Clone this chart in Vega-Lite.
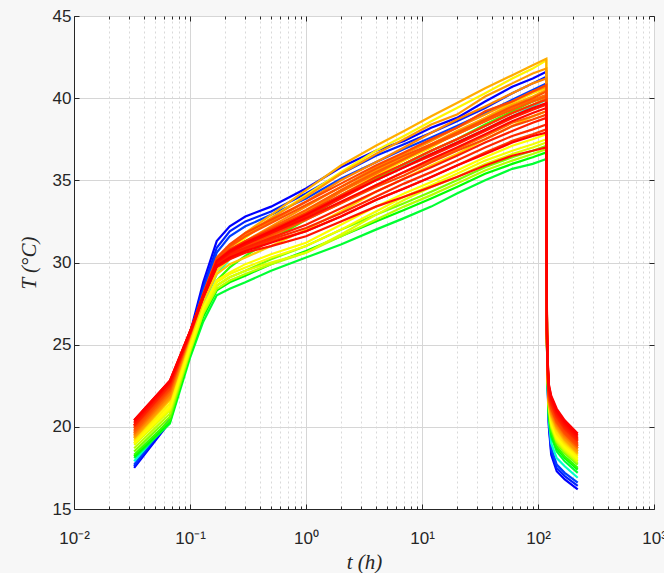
{
"$schema": "https://vega.github.io/schema/vega-lite/v6.json",
"width": 580, "height": 493,
"autosize": {"type": "none"},
"padding": {"left": 74, "top": 16, "right": 10, "bottom": 64},
"background": "#f7f7f7",
"config": {"view": {"fill": "white", "stroke": "#262626", "strokeWidth": 1}},
"datasets": {
"series": [{"s":1,"p":0},{"s":2,"p":0.03},{"s":3,"p":0.06},{"s":4,"p":0.3},{"s":5,"p":0.45},{"s":6,"p":0.5},{"s":7,"p":0.55},{"s":8,"p":0.62},{"s":9,"p":0.72},{"s":10,"p":0.75},{"s":11,"p":0.76},{"s":12,"p":0.83},{"s":13,"p":0.85},{"s":14,"p":0.86},{"s":15,"p":0.87},{"s":16,"p":0.88},{"s":17,"p":0.92},{"s":18,"p":0.93},{"s":19,"p":0.94},{"s":20,"p":0.95},{"s":21,"p":0.97},{"s":22,"p":0.98},{"s":23,"p":0.99},{"s":24,"p":1},{"s":25,"p":0.78},{"s":26,"p":0.8},{"s":27,"p":0.84},{"s":28,"p":0.89},{"s":29,"p":0.9},{"s":30,"p":0.91},{"s":31,"p":0.93},{"s":32,"p":0.96},{"s":33,"p":0.97},{"s":34,"p":1},{"s":35,"p":0.68},{"s":36,"p":0.74}],
"temps": [
{"s":1,"t":0.033,"v":17.5},{"s":1,"t":0.067,"v":20.3},{"s":1,"t":0.1,"v":25.7},{"s":1,"t":0.13,"v":28.8},{"s":1,"t":0.17,"v":31.3},{"s":1,"t":0.22,"v":32.2},{"s":1,"t":0.3,"v":32.8},{"s":1,"t":0.5,"v":33.4},{"s":1,"t":1,"v":34.5},{"s":1,"t":2,"v":35.8},{"s":1,"t":4,"v":36.8},{"s":1,"t":7,"v":37.4},{"s":1,"t":12,"v":38.2},{"s":1,"t":20,"v":38.8},{"s":1,"t":35,"v":39.8},{"s":1,"t":60,"v":40.7},{"s":1,"t":90,"v":41.2},{"s":1,"t":118,"v":41.6},{"s":1,"t":119.5,"v":25.0},{"s":1,"t":121,"v":22.5},{"s":1,"t":124,"v":20.0},{"s":1,"t":130,"v":18.3},{"s":1,"t":145,"v":17.3},{"s":1,"t":170,"v":16.8},{"s":1,"t":220,"v":16.2},
{"s":2,"t":0.033,"v":17.6},{"s":2,"t":0.067,"v":20.4},{"s":2,"t":0.1,"v":25.6},{"s":2,"t":0.13,"v":28.5},{"s":2,"t":0.17,"v":30.9},{"s":2,"t":0.22,"v":31.9},{"s":2,"t":0.3,"v":32.5},{"s":2,"t":0.5,"v":33.1},{"s":2,"t":1,"v":34.2},{"s":2,"t":2,"v":35.4},{"s":2,"t":4,"v":36.5},{"s":2,"t":7,"v":37.2},{"s":2,"t":12,"v":37.9},{"s":2,"t":20,"v":38.6},{"s":2,"t":35,"v":39.4},{"s":2,"t":60,"v":40.3},{"s":2,"t":90,"v":40.9},{"s":2,"t":118,"v":41.3},{"s":2,"t":119.5,"v":25.2},{"s":2,"t":121,"v":22.7},{"s":2,"t":124,"v":20.2},{"s":2,"t":130,"v":18.5},{"s":2,"t":145,"v":17.5},{"s":2,"t":170,"v":17.0},{"s":2,"t":220,"v":16.4},
{"s":3,"t":0.033,"v":17.7},{"s":3,"t":0.067,"v":20.5},{"s":3,"t":0.1,"v":25.5},{"s":3,"t":0.13,"v":28.3},{"s":3,"t":0.17,"v":30.6},{"s":3,"t":0.22,"v":31.6},{"s":3,"t":0.3,"v":32.2},{"s":3,"t":0.5,"v":32.9},{"s":3,"t":1,"v":33.9},{"s":3,"t":2,"v":35.1},{"s":3,"t":4,"v":36.1},{"s":3,"t":7,"v":36.9},{"s":3,"t":12,"v":37.6},{"s":3,"t":20,"v":38.3},{"s":3,"t":35,"v":39.1},{"s":3,"t":60,"v":39.9},{"s":3,"t":90,"v":40.5},{"s":3,"t":118,"v":40.9},{"s":3,"t":119.5,"v":25.4},{"s":3,"t":121,"v":22.9},{"s":3,"t":124,"v":20.4},{"s":3,"t":130,"v":18.7},{"s":3,"t":145,"v":17.7},{"s":3,"t":170,"v":17.2},{"s":3,"t":220,"v":16.6},
{"s":4,"t":0.033,"v":17.9},{"s":4,"t":0.067,"v":20.4},{"s":4,"t":0.1,"v":24.9},{"s":4,"t":0.13,"v":27.4},{"s":4,"t":0.17,"v":29.3},{"s":4,"t":0.22,"v":30.2},{"s":4,"t":0.3,"v":30.9},{"s":4,"t":0.5,"v":31.8},{"s":4,"t":1,"v":32.9},{"s":4,"t":2,"v":34.1},{"s":4,"t":4,"v":35.2},{"s":4,"t":7,"v":35.9},{"s":4,"t":12,"v":36.6},{"s":4,"t":20,"v":37.3},{"s":4,"t":35,"v":38.1},{"s":4,"t":60,"v":38.9},{"s":4,"t":90,"v":39.5},{"s":4,"t":118,"v":39.9},{"s":4,"t":119.5,"v":24.9},{"s":4,"t":121,"v":22.5},{"s":4,"t":124,"v":20.4},{"s":4,"t":130,"v":19.0},{"s":4,"t":145,"v":18.1},{"s":4,"t":170,"v":17.6},{"s":4,"t":220,"v":16.9},
{"s":5,"t":0.033,"v":18.1},{"s":5,"t":0.067,"v":20.2},{"s":5,"t":0.1,"v":24.2},{"s":5,"t":0.13,"v":26.4},{"s":5,"t":0.17,"v":28.0},{"s":5,"t":0.22,"v":28.4},{"s":5,"t":0.3,"v":28.8},{"s":5,"t":0.5,"v":29.5},{"s":5,"t":1,"v":30.3},{"s":5,"t":2,"v":31.1},{"s":5,"t":4,"v":32.0},{"s":5,"t":7,"v":32.7},{"s":5,"t":12,"v":33.4},{"s":5,"t":20,"v":34.2},{"s":5,"t":35,"v":35.0},{"s":5,"t":60,"v":35.7},{"s":5,"t":90,"v":36.0},{"s":5,"t":118,"v":36.3},{"s":5,"t":119.5,"v":25.0},{"s":5,"t":121,"v":22.7},{"s":5,"t":124,"v":20.6},{"s":5,"t":130,"v":19.4},{"s":5,"t":145,"v":18.5},{"s":5,"t":170,"v":17.9},{"s":5,"t":220,"v":17.2},
{"s":6,"t":0.033,"v":18.2},{"s":6,"t":0.067,"v":20.3},{"s":6,"t":0.1,"v":24.4},{"s":6,"t":0.13,"v":26.7},{"s":6,"t":0.17,"v":28.3},{"s":6,"t":0.22,"v":28.8},{"s":6,"t":0.3,"v":29.2},{"s":6,"t":0.5,"v":29.9},{"s":6,"t":1,"v":30.7},{"s":6,"t":2,"v":31.6},{"s":6,"t":4,"v":32.5},{"s":6,"t":7,"v":33.2},{"s":6,"t":12,"v":33.9},{"s":6,"t":20,"v":34.6},{"s":6,"t":35,"v":35.4},{"s":6,"t":60,"v":36.0},{"s":6,"t":90,"v":36.4},{"s":6,"t":118,"v":36.7},{"s":6,"t":119.5,"v":25.2},{"s":6,"t":121,"v":22.9},{"s":6,"t":124,"v":20.8},{"s":6,"t":130,"v":19.6},{"s":6,"t":145,"v":18.7},{"s":6,"t":170,"v":18.1},{"s":6,"t":220,"v":17.4},
{"s":7,"t":0.033,"v":18.3},{"s":7,"t":0.067,"v":20.4},{"s":7,"t":0.1,"v":24.6},{"s":7,"t":0.13,"v":27.1},{"s":7,"t":0.17,"v":28.9},{"s":7,"t":0.22,"v":29.7},{"s":7,"t":0.3,"v":30.4},{"s":7,"t":0.5,"v":31.4},{"s":7,"t":1,"v":32.6},{"s":7,"t":2,"v":34.0},{"s":7,"t":4,"v":35.1},{"s":7,"t":7,"v":36.0},{"s":7,"t":12,"v":36.8},{"s":7,"t":20,"v":37.5},{"s":7,"t":35,"v":38.4},{"s":7,"t":60,"v":39.2},{"s":7,"t":90,"v":39.8},{"s":7,"t":118,"v":40.1},{"s":7,"t":119.5,"v":25.3},{"s":7,"t":121,"v":23.0},{"s":7,"t":124,"v":20.9},{"s":7,"t":130,"v":19.7},{"s":7,"t":145,"v":18.8},{"s":7,"t":170,"v":18.2},{"s":7,"t":220,"v":17.5},
{"s":8,"t":0.033,"v":18.5},{"s":8,"t":0.067,"v":20.6},{"s":8,"t":0.1,"v":24.5},{"s":8,"t":0.13,"v":26.9},{"s":8,"t":0.17,"v":28.6},{"s":8,"t":0.22,"v":29.1},{"s":8,"t":0.3,"v":29.5},{"s":8,"t":0.5,"v":30.2},{"s":8,"t":1,"v":31.0},{"s":8,"t":2,"v":32.0},{"s":8,"t":4,"v":32.9},{"s":8,"t":7,"v":33.6},{"s":8,"t":12,"v":34.3},{"s":8,"t":20,"v":35.0},{"s":8,"t":35,"v":35.8},{"s":8,"t":60,"v":36.4},{"s":8,"t":90,"v":36.8},{"s":8,"t":118,"v":37.1},{"s":8,"t":119.5,"v":25.5},{"s":8,"t":121,"v":23.2},{"s":8,"t":124,"v":21.1},{"s":8,"t":130,"v":19.9},{"s":8,"t":145,"v":19.0},{"s":8,"t":170,"v":18.4},{"s":8,"t":220,"v":17.7},
{"s":35,"t":0.033,"v":18.7},{"s":35,"t":0.067,"v":20.8},{"s":35,"t":0.1,"v":24.6},{"s":35,"t":0.13,"v":26.9},{"s":35,"t":0.17,"v":28.4},{"s":35,"t":0.22,"v":28.9},{"s":35,"t":0.3,"v":29.3},{"s":35,"t":0.5,"v":29.9},{"s":35,"t":1,"v":30.6},{"s":35,"t":2,"v":31.6},{"s":35,"t":4,"v":32.6},{"s":35,"t":7,"v":33.4},{"s":35,"t":12,"v":34.1},{"s":35,"t":20,"v":34.8},{"s":35,"t":35,"v":35.6},{"s":35,"t":60,"v":36.2},{"s":35,"t":90,"v":36.6},{"s":35,"t":118,"v":36.9},{"s":35,"t":119.5,"v":25.6},{"s":35,"t":121,"v":23.3},{"s":35,"t":124,"v":21.2},{"s":35,"t":130,"v":20.0},{"s":35,"t":145,"v":19.1},{"s":35,"t":170,"v":18.5},{"s":35,"t":220,"v":17.8},
{"s":9,"t":0.033,"v":18.9},{"s":9,"t":0.067,"v":21.0},{"s":9,"t":0.1,"v":24.7},{"s":9,"t":0.13,"v":27.0},{"s":9,"t":0.17,"v":28.6},{"s":9,"t":0.22,"v":29.1},{"s":9,"t":0.3,"v":29.5},{"s":9,"t":0.5,"v":30.0},{"s":9,"t":1,"v":30.6},{"s":9,"t":2,"v":31.7},{"s":9,"t":4,"v":32.9},{"s":9,"t":7,"v":33.8},{"s":9,"t":12,"v":34.6},{"s":9,"t":20,"v":35.2},{"s":9,"t":35,"v":36.0},{"s":9,"t":60,"v":36.6},{"s":9,"t":90,"v":37.0},{"s":9,"t":118,"v":37.3},{"s":9,"t":119.5,"v":25.7},{"s":9,"t":121,"v":23.4},{"s":9,"t":124,"v":21.3},{"s":9,"t":130,"v":20.1},{"s":9,"t":145,"v":19.2},{"s":9,"t":170,"v":18.6},{"s":9,"t":220,"v":17.9},
{"s":36,"t":0.033,"v":19.0},{"s":36,"t":0.067,"v":21.1},{"s":36,"t":0.1,"v":24.8},{"s":36,"t":0.13,"v":27.2},{"s":36,"t":0.17,"v":28.8},{"s":36,"t":0.22,"v":29.3},{"s":36,"t":0.3,"v":29.7},{"s":36,"t":0.5,"v":30.3},{"s":36,"t":1,"v":31.0},{"s":36,"t":2,"v":32.0},{"s":36,"t":4,"v":33.1},{"s":36,"t":7,"v":34.0},{"s":36,"t":12,"v":34.7},{"s":36,"t":20,"v":35.4},{"s":36,"t":35,"v":36.2},{"s":36,"t":60,"v":36.8},{"s":36,"t":90,"v":37.2},{"s":36,"t":118,"v":37.5},{"s":36,"t":119.5,"v":25.8},{"s":36,"t":121,"v":23.5},{"s":36,"t":124,"v":21.4},{"s":36,"t":130,"v":20.2},{"s":36,"t":145,"v":19.3},{"s":36,"t":170,"v":18.7},{"s":36,"t":220,"v":18.0},
{"s":10,"t":0.033,"v":19.0},{"s":10,"t":0.067,"v":21.2},{"s":10,"t":0.1,"v":24.9},{"s":10,"t":0.13,"v":27.3},{"s":10,"t":0.17,"v":28.9},{"s":10,"t":0.22,"v":29.4},{"s":10,"t":0.3,"v":29.9},{"s":10,"t":0.5,"v":30.5},{"s":10,"t":1,"v":31.2},{"s":10,"t":2,"v":32.3},{"s":10,"t":4,"v":33.4},{"s":10,"t":7,"v":34.2},{"s":10,"t":12,"v":34.9},{"s":10,"t":20,"v":35.6},{"s":10,"t":35,"v":36.4},{"s":10,"t":60,"v":37.1},{"s":10,"t":90,"v":37.5},{"s":10,"t":118,"v":37.8},{"s":10,"t":119.5,"v":25.9},{"s":10,"t":121,"v":23.6},{"s":10,"t":124,"v":21.5},{"s":10,"t":130,"v":20.3},{"s":10,"t":145,"v":19.4},{"s":10,"t":170,"v":18.8},{"s":10,"t":220,"v":18.1},
{"s":11,"t":0.033,"v":19.1},{"s":11,"t":0.067,"v":21.4},{"s":11,"t":0.1,"v":25.2},{"s":11,"t":0.13,"v":27.8},{"s":11,"t":0.17,"v":29.8},{"s":11,"t":0.22,"v":30.7},{"s":11,"t":0.3,"v":31.5},{"s":11,"t":0.5,"v":32.7},{"s":11,"t":1,"v":34.1},{"s":11,"t":2,"v":35.5},{"s":11,"t":4,"v":36.8},{"s":11,"t":7,"v":37.7},{"s":11,"t":12,"v":38.6},{"s":11,"t":20,"v":39.4},{"s":11,"t":35,"v":40.3},{"s":11,"t":60,"v":41.2},{"s":11,"t":90,"v":41.8},{"s":11,"t":118,"v":42.3},{"s":11,"t":119.5,"v":26.0},{"s":11,"t":121,"v":23.7},{"s":11,"t":124,"v":21.6},{"s":11,"t":130,"v":20.4},{"s":11,"t":145,"v":19.5},{"s":11,"t":170,"v":18.9},{"s":11,"t":220,"v":18.2},
{"s":25,"t":0.033,"v":19.2},{"s":25,"t":0.067,"v":21.6},{"s":25,"t":0.1,"v":25.3},{"s":25,"t":0.13,"v":27.7},{"s":25,"t":0.17,"v":29.5},{"s":25,"t":0.22,"v":30.2},{"s":25,"t":0.3,"v":30.8},{"s":25,"t":0.5,"v":31.7},{"s":25,"t":1,"v":32.8},{"s":25,"t":2,"v":34.1},{"s":25,"t":4,"v":35.3},{"s":25,"t":7,"v":36.2},{"s":25,"t":12,"v":37.0},{"s":25,"t":20,"v":37.9},{"s":25,"t":35,"v":38.8},{"s":25,"t":60,"v":39.7},{"s":25,"t":90,"v":40.3},{"s":25,"t":118,"v":40.6},{"s":25,"t":119.5,"v":25.9},{"s":25,"t":121,"v":23.6},{"s":25,"t":124,"v":21.6},{"s":25,"t":130,"v":20.5},{"s":25,"t":145,"v":19.6},{"s":25,"t":170,"v":19.0},{"s":25,"t":220,"v":18.3},
{"s":26,"t":0.033,"v":19.3},{"s":26,"t":0.067,"v":21.7},{"s":26,"t":0.1,"v":25.4},{"s":26,"t":0.13,"v":27.6},{"s":26,"t":0.17,"v":29.3},{"s":26,"t":0.22,"v":29.9},{"s":26,"t":0.3,"v":30.3},{"s":26,"t":0.5,"v":31.0},{"s":26,"t":1,"v":32.0},{"s":26,"t":2,"v":33.1},{"s":26,"t":4,"v":34.3},{"s":26,"t":7,"v":35.1},{"s":26,"t":12,"v":35.9},{"s":26,"t":20,"v":36.6},{"s":26,"t":35,"v":37.5},{"s":26,"t":60,"v":38.3},{"s":26,"t":90,"v":38.9},{"s":26,"t":118,"v":39.2},{"s":26,"t":119.5,"v":25.0},{"s":26,"t":121,"v":23.0},{"s":26,"t":124,"v":21.4},{"s":26,"t":130,"v":20.6},{"s":26,"t":145,"v":19.8},{"s":26,"t":170,"v":19.1},{"s":26,"t":220,"v":18.35},
{"s":12,"t":0.033,"v":19.3},{"s":12,"t":0.067,"v":21.7},{"s":12,"t":0.1,"v":25.5},{"s":12,"t":0.13,"v":28.0},{"s":12,"t":0.17,"v":30.1},{"s":12,"t":0.22,"v":31.0},{"s":12,"t":0.3,"v":31.8},{"s":12,"t":0.5,"v":32.9},{"s":12,"t":1,"v":34.4},{"s":12,"t":2,"v":35.9},{"s":12,"t":4,"v":37.1},{"s":12,"t":7,"v":38.0},{"s":12,"t":12,"v":38.9},{"s":12,"t":20,"v":39.7},{"s":12,"t":35,"v":40.6},{"s":12,"t":60,"v":41.4},{"s":12,"t":90,"v":42.0},{"s":12,"t":118,"v":42.4},{"s":12,"t":119.5,"v":25.0},{"s":12,"t":121,"v":23.0},{"s":12,"t":124,"v":21.4},{"s":12,"t":130,"v":20.7},{"s":12,"t":145,"v":19.9},{"s":12,"t":170,"v":19.2},{"s":12,"t":220,"v":18.4},
{"s":27,"t":0.033,"v":19.4},{"s":27,"t":0.067,"v":21.8},{"s":27,"t":0.1,"v":25.5},{"s":27,"t":0.13,"v":27.8},{"s":27,"t":0.17,"v":29.8},{"s":27,"t":0.22,"v":30.5},{"s":27,"t":0.3,"v":31.1},{"s":27,"t":0.5,"v":32.0},{"s":27,"t":1,"v":33.1},{"s":27,"t":2,"v":34.4},{"s":27,"t":4,"v":35.6},{"s":27,"t":7,"v":36.4},{"s":27,"t":12,"v":37.2},{"s":27,"t":20,"v":38.0},{"s":27,"t":35,"v":38.8},{"s":27,"t":60,"v":39.6},{"s":27,"t":90,"v":40.1},{"s":27,"t":118,"v":40.5},{"s":27,"t":119.5,"v":24.9},{"s":27,"t":121,"v":23.1},{"s":27,"t":124,"v":21.5},{"s":27,"t":130,"v":20.8},{"s":27,"t":145,"v":20.0},{"s":27,"t":170,"v":19.3},{"s":27,"t":220,"v":18.5},
{"s":13,"t":0.033,"v":19.4},{"s":13,"t":0.067,"v":21.8},{"s":13,"t":0.1,"v":25.6},{"s":13,"t":0.13,"v":28.0},{"s":13,"t":0.17,"v":30.2},{"s":13,"t":0.22,"v":31.0},{"s":13,"t":0.3,"v":31.7},{"s":13,"t":0.5,"v":32.7},{"s":13,"t":1,"v":34.0},{"s":13,"t":2,"v":35.4},{"s":13,"t":4,"v":36.6},{"s":13,"t":7,"v":37.5},{"s":13,"t":12,"v":38.4},{"s":13,"t":20,"v":39.0},{"s":13,"t":35,"v":40.1},{"s":13,"t":60,"v":40.9},{"s":13,"t":90,"v":41.5},{"s":13,"t":118,"v":41.8},{"s":13,"t":119.5,"v":24.9},{"s":13,"t":121,"v":23.1},{"s":13,"t":124,"v":21.5},{"s":13,"t":130,"v":20.8},{"s":13,"t":145,"v":20.0},{"s":13,"t":170,"v":19.3},{"s":13,"t":220,"v":18.5},
{"s":14,"t":0.033,"v":19.5},{"s":14,"t":0.067,"v":21.9},{"s":14,"t":0.1,"v":25.6},{"s":14,"t":0.13,"v":27.9},{"s":14,"t":0.17,"v":30.0},{"s":14,"t":0.22,"v":30.7},{"s":14,"t":0.3,"v":31.3},{"s":14,"t":0.5,"v":32.2},{"s":14,"t":1,"v":33.4},{"s":14,"t":2,"v":34.6},{"s":14,"t":4,"v":35.8},{"s":14,"t":7,"v":36.6},{"s":14,"t":12,"v":37.4},{"s":14,"t":20,"v":38.2},{"s":14,"t":35,"v":39.0},{"s":14,"t":60,"v":39.8},{"s":14,"t":90,"v":40.4},{"s":14,"t":118,"v":40.7},{"s":14,"t":119.5,"v":25.0},{"s":14,"t":121,"v":23.2},{"s":14,"t":124,"v":21.6},{"s":14,"t":130,"v":20.9},{"s":14,"t":145,"v":20.1},{"s":14,"t":170,"v":19.4},{"s":14,"t":220,"v":18.6},
{"s":15,"t":0.033,"v":19.5},{"s":15,"t":0.067,"v":22.0},{"s":15,"t":0.1,"v":25.7},{"s":15,"t":0.13,"v":28.0},{"s":15,"t":0.17,"v":30.1},{"s":15,"t":0.22,"v":30.9},{"s":15,"t":0.3,"v":31.6},{"s":15,"t":0.5,"v":32.5},{"s":15,"t":1,"v":33.7},{"s":15,"t":2,"v":35.0},{"s":15,"t":4,"v":36.1},{"s":15,"t":7,"v":37.0},{"s":15,"t":12,"v":37.9},{"s":15,"t":20,"v":38.7},{"s":15,"t":35,"v":39.5},{"s":15,"t":60,"v":40.3},{"s":15,"t":90,"v":40.9},{"s":15,"t":118,"v":41.2},{"s":15,"t":119.5,"v":25.1},{"s":15,"t":121,"v":23.3},{"s":15,"t":124,"v":21.7},{"s":15,"t":130,"v":20.9},{"s":15,"t":145,"v":20.1},{"s":15,"t":170,"v":19.4},{"s":15,"t":220,"v":18.7},
{"s":16,"t":0.033,"v":19.6},{"s":16,"t":0.067,"v":22.0},{"s":16,"t":0.1,"v":25.6},{"s":16,"t":0.13,"v":27.9},{"s":16,"t":0.17,"v":29.9},{"s":16,"t":0.22,"v":30.5},{"s":16,"t":0.3,"v":31.0},{"s":16,"t":0.5,"v":31.8},{"s":16,"t":1,"v":32.9},{"s":16,"t":2,"v":34.0},{"s":16,"t":4,"v":35.2},{"s":16,"t":7,"v":36.0},{"s":16,"t":12,"v":36.8},{"s":16,"t":20,"v":37.5},{"s":16,"t":35,"v":38.3},{"s":16,"t":60,"v":39.1},{"s":16,"t":90,"v":39.6},{"s":16,"t":118,"v":40.0},{"s":16,"t":119.5,"v":25.1},{"s":16,"t":121,"v":23.3},{"s":16,"t":124,"v":21.7},{"s":16,"t":130,"v":21.0},{"s":16,"t":145,"v":20.2},{"s":16,"t":170,"v":19.5},{"s":16,"t":220,"v":18.7},
{"s":28,"t":0.033,"v":19.6},{"s":28,"t":0.067,"v":22.1},{"s":28,"t":0.1,"v":25.6},{"s":28,"t":0.13,"v":27.9},{"s":28,"t":0.17,"v":29.9},{"s":28,"t":0.22,"v":30.6},{"s":28,"t":0.3,"v":31.1},{"s":28,"t":0.5,"v":31.9},{"s":28,"t":1,"v":33.0},{"s":28,"t":2,"v":34.3},{"s":28,"t":4,"v":35.4},{"s":28,"t":7,"v":36.3},{"s":28,"t":12,"v":37.1},{"s":28,"t":20,"v":37.8},{"s":28,"t":35,"v":38.6},{"s":28,"t":60,"v":39.4},{"s":28,"t":90,"v":39.9},{"s":28,"t":118,"v":40.2},{"s":28,"t":119.5,"v":25.1},{"s":28,"t":121,"v":23.3},{"s":28,"t":124,"v":21.7},{"s":28,"t":130,"v":21.0},{"s":28,"t":145,"v":20.2},{"s":28,"t":170,"v":19.5},{"s":28,"t":220,"v":18.7},
{"s":29,"t":0.033,"v":19.7},{"s":29,"t":0.067,"v":22.2},{"s":29,"t":0.1,"v":25.7},{"s":29,"t":0.13,"v":27.9},{"s":29,"t":0.17,"v":29.8},{"s":29,"t":0.22,"v":30.4},{"s":29,"t":0.3,"v":30.9},{"s":29,"t":0.5,"v":31.6},{"s":29,"t":1,"v":32.6},{"s":29,"t":2,"v":33.6},{"s":29,"t":4,"v":34.7},{"s":29,"t":7,"v":35.5},{"s":29,"t":12,"v":36.2},{"s":29,"t":20,"v":36.9},{"s":29,"t":35,"v":37.7},{"s":29,"t":60,"v":38.5},{"s":29,"t":90,"v":38.9},{"s":29,"t":118,"v":39.2},{"s":29,"t":119.5,"v":25.2},{"s":29,"t":121,"v":23.4},{"s":29,"t":124,"v":21.8},{"s":29,"t":130,"v":21.1},{"s":29,"t":145,"v":20.3},{"s":29,"t":170,"v":19.6},{"s":29,"t":220,"v":18.8},
{"s":30,"t":0.033,"v":19.7},{"s":30,"t":0.067,"v":22.2},{"s":30,"t":0.1,"v":25.7},{"s":30,"t":0.13,"v":28.0},{"s":30,"t":0.17,"v":30.0},{"s":30,"t":0.22,"v":30.7},{"s":30,"t":0.3,"v":31.3},{"s":30,"t":0.5,"v":32.1},{"s":30,"t":1,"v":33.2},{"s":30,"t":2,"v":34.4},{"s":30,"t":4,"v":35.5},{"s":30,"t":7,"v":36.3},{"s":30,"t":12,"v":37.1},{"s":30,"t":20,"v":37.8},{"s":30,"t":35,"v":38.6},{"s":30,"t":60,"v":39.3},{"s":30,"t":90,"v":39.8},{"s":30,"t":118,"v":40.1},{"s":30,"t":119.5,"v":25.3},{"s":30,"t":121,"v":23.5},{"s":30,"t":124,"v":21.9},{"s":30,"t":130,"v":21.2},{"s":30,"t":145,"v":20.3},{"s":30,"t":170,"v":19.6},{"s":30,"t":220,"v":18.85},
{"s":17,"t":0.033,"v":19.8},{"s":17,"t":0.067,"v":22.3},{"s":17,"t":0.1,"v":25.7},{"s":17,"t":0.13,"v":28.0},{"s":17,"t":0.17,"v":30.2},{"s":17,"t":0.22,"v":31.0},{"s":17,"t":0.3,"v":31.6},{"s":17,"t":0.5,"v":32.4},{"s":17,"t":1,"v":33.5},{"s":17,"t":2,"v":34.6},{"s":17,"t":4,"v":35.7},{"s":17,"t":7,"v":36.5},{"s":17,"t":12,"v":37.2},{"s":17,"t":20,"v":37.9},{"s":17,"t":35,"v":38.7},{"s":17,"t":60,"v":39.5},{"s":17,"t":90,"v":40.0},{"s":17,"t":118,"v":40.4},{"s":17,"t":119.5,"v":25.2},{"s":17,"t":121,"v":23.4},{"s":17,"t":124,"v":21.8},{"s":17,"t":130,"v":21.1},{"s":17,"t":145,"v":20.3},{"s":17,"t":170,"v":19.6},{"s":17,"t":220,"v":18.8},
{"s":18,"t":0.033,"v":19.9},{"s":18,"t":0.067,"v":22.4},{"s":18,"t":0.1,"v":25.7},{"s":18,"t":0.13,"v":28.1},{"s":18,"t":0.17,"v":30.3},{"s":18,"t":0.22,"v":31.1},{"s":18,"t":0.3,"v":31.8},{"s":18,"t":0.5,"v":32.6},{"s":18,"t":1,"v":33.7},{"s":18,"t":2,"v":34.8},{"s":18,"t":4,"v":35.9},{"s":18,"t":7,"v":36.7},{"s":18,"t":12,"v":37.5},{"s":18,"t":20,"v":38.2},{"s":18,"t":35,"v":39.2},{"s":18,"t":60,"v":39.8},{"s":18,"t":90,"v":40.4},{"s":18,"t":118,"v":40.8},{"s":18,"t":119.5,"v":25.3},{"s":18,"t":121,"v":23.5},{"s":18,"t":124,"v":21.9},{"s":18,"t":130,"v":21.2},{"s":18,"t":145,"v":20.4},{"s":18,"t":170,"v":19.7},{"s":18,"t":220,"v":18.9},
{"s":31,"t":0.033,"v":19.9},{"s":31,"t":0.067,"v":22.3},{"s":31,"t":0.1,"v":25.7},{"s":31,"t":0.13,"v":27.9},{"s":31,"t":0.17,"v":29.9},{"s":31,"t":0.22,"v":30.5},{"s":31,"t":0.3,"v":31.0},{"s":31,"t":0.5,"v":31.7},{"s":31,"t":1,"v":32.6},{"s":31,"t":2,"v":33.6},{"s":31,"t":4,"v":34.6},{"s":31,"t":7,"v":35.3},{"s":31,"t":12,"v":36.1},{"s":31,"t":20,"v":36.8},{"s":31,"t":35,"v":37.5},{"s":31,"t":60,"v":38.3},{"s":31,"t":90,"v":38.7},{"s":31,"t":118,"v":39.0},{"s":31,"t":119.5,"v":25.4},{"s":31,"t":121,"v":23.6},{"s":31,"t":124,"v":21.9},{"s":31,"t":130,"v":21.2},{"s":31,"t":145,"v":20.4},{"s":31,"t":170,"v":19.7},{"s":31,"t":220,"v":18.95},
{"s":19,"t":0.033,"v":20.0},{"s":19,"t":0.067,"v":22.4},{"s":19,"t":0.1,"v":25.6},{"s":19,"t":0.13,"v":27.9},{"s":19,"t":0.17,"v":29.8},{"s":19,"t":0.22,"v":30.4},{"s":19,"t":0.3,"v":30.8},{"s":19,"t":0.5,"v":31.3},{"s":19,"t":1,"v":31.9},{"s":19,"t":2,"v":32.8},{"s":19,"t":4,"v":33.8},{"s":19,"t":7,"v":34.5},{"s":19,"t":12,"v":35.2},{"s":19,"t":20,"v":35.9},{"s":19,"t":35,"v":36.7},{"s":19,"t":60,"v":37.4},{"s":19,"t":90,"v":37.8},{"s":19,"t":118,"v":38.1},{"s":19,"t":119.5,"v":25.4},{"s":19,"t":121,"v":23.6},{"s":19,"t":124,"v":22.0},{"s":19,"t":130,"v":21.3},{"s":19,"t":145,"v":20.5},{"s":19,"t":170,"v":19.8},{"s":19,"t":220,"v":19.0},
{"s":20,"t":0.033,"v":20.0},{"s":20,"t":0.067,"v":22.5},{"s":20,"t":0.1,"v":25.7},{"s":20,"t":0.13,"v":28.0},{"s":20,"t":0.17,"v":30.1},{"s":20,"t":0.22,"v":30.8},{"s":20,"t":0.3,"v":31.3},{"s":20,"t":0.5,"v":32.0},{"s":20,"t":1,"v":33.0},{"s":20,"t":2,"v":34.1},{"s":20,"t":4,"v":35.2},{"s":20,"t":7,"v":36.0},{"s":20,"t":12,"v":36.8},{"s":20,"t":20,"v":37.5},{"s":20,"t":35,"v":38.3},{"s":20,"t":60,"v":39.1},{"s":20,"t":90,"v":39.6},{"s":20,"t":118,"v":39.9},{"s":20,"t":119.5,"v":25.5},{"s":20,"t":121,"v":23.7},{"s":20,"t":124,"v":22.1},{"s":20,"t":130,"v":21.4},{"s":20,"t":145,"v":20.6},{"s":20,"t":170,"v":19.9},{"s":20,"t":220,"v":19.1},
{"s":32,"t":0.033,"v":20.1},{"s":32,"t":0.067,"v":22.5},{"s":32,"t":0.1,"v":25.7},{"s":32,"t":0.13,"v":27.9},{"s":32,"t":0.17,"v":29.8},{"s":32,"t":0.22,"v":30.4},{"s":32,"t":0.3,"v":30.8},{"s":32,"t":0.5,"v":31.4},{"s":32,"t":1,"v":32.1},{"s":32,"t":2,"v":33.0},{"s":32,"t":4,"v":34.0},{"s":32,"t":7,"v":34.8},{"s":32,"t":12,"v":35.5},{"s":32,"t":20,"v":36.2},{"s":32,"t":35,"v":37.0},{"s":32,"t":60,"v":37.7},{"s":32,"t":90,"v":38.1},{"s":32,"t":118,"v":38.4},{"s":32,"t":119.5,"v":25.6},{"s":32,"t":121,"v":23.8},{"s":32,"t":124,"v":22.1},{"s":32,"t":130,"v":21.4},{"s":32,"t":145,"v":20.6},{"s":32,"t":170,"v":19.9},{"s":32,"t":220,"v":19.15},
{"s":21,"t":0.033,"v":20.1},{"s":21,"t":0.067,"v":22.6},{"s":21,"t":0.1,"v":25.7},{"s":21,"t":0.13,"v":27.9},{"s":21,"t":0.17,"v":29.9},{"s":21,"t":0.22,"v":30.5},{"s":21,"t":0.3,"v":30.9},{"s":21,"t":0.5,"v":31.5},{"s":21,"t":1,"v":32.3},{"s":21,"t":2,"v":33.3},{"s":21,"t":4,"v":34.3},{"s":21,"t":7,"v":35.1},{"s":21,"t":12,"v":35.8},{"s":21,"t":20,"v":36.5},{"s":21,"t":35,"v":37.3},{"s":21,"t":60,"v":38.0},{"s":21,"t":90,"v":38.5},{"s":21,"t":118,"v":38.8},{"s":21,"t":119.5,"v":25.6},{"s":21,"t":121,"v":23.8},{"s":21,"t":124,"v":22.2},{"s":21,"t":130,"v":21.5},{"s":21,"t":145,"v":20.7},{"s":21,"t":170,"v":20.0},{"s":21,"t":220,"v":19.2},
{"s":33,"t":0.033,"v":20.1},{"s":33,"t":0.067,"v":22.6},{"s":33,"t":0.1,"v":25.8},{"s":33,"t":0.13,"v":28.0},{"s":33,"t":0.17,"v":30.0},{"s":33,"t":0.22,"v":30.7},{"s":33,"t":0.3,"v":31.2},{"s":33,"t":0.5,"v":31.9},{"s":33,"t":1,"v":32.8},{"s":33,"t":2,"v":33.9},{"s":33,"t":4,"v":35.0},{"s":33,"t":7,"v":35.8},{"s":33,"t":12,"v":36.5},{"s":33,"t":20,"v":37.2},{"s":33,"t":35,"v":38.0},{"s":33,"t":60,"v":38.8},{"s":33,"t":90,"v":39.3},{"s":33,"t":118,"v":39.6},{"s":33,"t":119.5,"v":25.7},{"s":33,"t":121,"v":23.9},{"s":33,"t":124,"v":22.2},{"s":33,"t":130,"v":21.5},{"s":33,"t":145,"v":20.7},{"s":33,"t":170,"v":20.0},{"s":33,"t":220,"v":19.25},
{"s":22,"t":0.033,"v":20.2},{"s":22,"t":0.067,"v":22.7},{"s":22,"t":0.1,"v":25.7},{"s":22,"t":0.13,"v":27.9},{"s":22,"t":0.17,"v":29.7},{"s":22,"t":0.22,"v":30.2},{"s":22,"t":0.3,"v":30.6},{"s":22,"t":0.5,"v":31.0},{"s":22,"t":1,"v":31.6},{"s":22,"t":2,"v":32.5},{"s":22,"t":4,"v":33.4},{"s":22,"t":7,"v":34.0},{"s":22,"t":12,"v":34.6},{"s":22,"t":20,"v":35.2},{"s":22,"t":35,"v":35.9},{"s":22,"t":60,"v":36.5},{"s":22,"t":90,"v":36.8},{"s":22,"t":118,"v":37.0},{"s":22,"t":119.5,"v":25.7},{"s":22,"t":121,"v":23.9},{"s":22,"t":124,"v":22.3},{"s":22,"t":130,"v":21.6},{"s":22,"t":145,"v":20.8},{"s":22,"t":170,"v":20.1},{"s":22,"t":220,"v":19.3},
{"s":23,"t":0.033,"v":20.3},{"s":23,"t":0.067,"v":22.7},{"s":23,"t":0.1,"v":25.8},{"s":23,"t":0.13,"v":28.0},{"s":23,"t":0.17,"v":30.0},{"s":23,"t":0.22,"v":30.6},{"s":23,"t":0.3,"v":31.1},{"s":23,"t":0.5,"v":31.8},{"s":23,"t":1,"v":32.7},{"s":23,"t":2,"v":33.7},{"s":23,"t":4,"v":34.7},{"s":23,"t":7,"v":35.5},{"s":23,"t":12,"v":36.3},{"s":23,"t":20,"v":37.0},{"s":23,"t":35,"v":37.8},{"s":23,"t":60,"v":38.6},{"s":23,"t":90,"v":39.1},{"s":23,"t":118,"v":39.4},{"s":23,"t":119.5,"v":25.8},{"s":23,"t":121,"v":24.0},{"s":23,"t":124,"v":22.4},{"s":23,"t":130,"v":21.7},{"s":23,"t":145,"v":20.9},{"s":23,"t":170,"v":20.2},{"s":23,"t":220,"v":19.4},
{"s":24,"t":0.033,"v":20.4},{"s":24,"t":0.067,"v":22.8},{"s":24,"t":0.1,"v":25.8},{"s":24,"t":0.13,"v":28.0},{"s":24,"t":0.17,"v":30.1},{"s":24,"t":0.22,"v":30.7},{"s":24,"t":0.3,"v":31.2},{"s":24,"t":0.5,"v":31.9},{"s":24,"t":1,"v":32.9},{"s":24,"t":2,"v":34.0},{"s":24,"t":4,"v":35.0},{"s":24,"t":7,"v":35.8},{"s":24,"t":12,"v":36.6},{"s":24,"t":20,"v":37.3},{"s":24,"t":35,"v":38.1},{"s":24,"t":60,"v":38.9},{"s":24,"t":90,"v":39.4},{"s":24,"t":118,"v":39.7},{"s":24,"t":119.5,"v":26.0},{"s":24,"t":121,"v":24.2},{"s":24,"t":124,"v":22.6},{"s":24,"t":130,"v":21.9},{"s":24,"t":145,"v":21.1},{"s":24,"t":170,"v":20.4},{"s":24,"t":220,"v":19.6},
{"s":34,"t":0.033,"v":20.4},{"s":34,"t":0.067,"v":22.8},{"s":34,"t":0.1,"v":25.8},{"s":34,"t":0.13,"v":27.9},{"s":34,"t":0.17,"v":29.8},{"s":34,"t":0.22,"v":30.3},{"s":34,"t":0.3,"v":30.7},{"s":34,"t":0.5,"v":31.2},{"s":34,"t":1,"v":31.9},{"s":34,"t":2,"v":32.8},{"s":34,"t":4,"v":33.8},{"s":34,"t":7,"v":34.5},{"s":34,"t":12,"v":35.2},{"s":34,"t":20,"v":35.9},{"s":34,"t":35,"v":36.6},{"s":34,"t":60,"v":37.3},{"s":34,"t":90,"v":37.7},{"s":34,"t":118,"v":37.9},{"s":34,"t":119.5,"v":25.9},{"s":34,"t":121,"v":24.1},{"s":34,"t":124,"v":22.5},{"s":34,"t":130,"v":21.8},{"s":34,"t":145,"v":21.0},{"s":34,"t":170,"v":20.3},{"s":34,"t":220,"v":19.5}
]
},
"data": {"name": "temps"},
"transform": [{"lookup": "s", "from": {"data": {"name": "series"}, "key": "s", "fields": ["p"]}}],
"layer": [
{
"mark": {"type": "line", "strokeWidth": 2.2, "clip": true},
"encoding": {
"x": {"field": "t", "type": "quantitative",
"scale": {"type": "log", "domain": [0.01, 1000], "nice": false},
"axis": {
"orient": "bottom",
"values": [0.01,0.02,0.03,0.04,0.05,0.06,0.07,0.08,0.09,0.1,0.2,0.3,0.4,0.5,0.6,0.7,0.8,0.9,1,2,3,4,5,6,7,8,9,10,20,30,40,50,60,70,80,90,100,200,300,400,500,600,700,800,900,1000],
"labelExpr": "datum.value == 0.01 ? '10⁻²' : datum.value == 0.1 ? '10⁻¹' : datum.value == 1 ? '10⁰' : datum.value == 10 ? '10¹' : datum.value == 100 ? '10²' : datum.value == 1000 ? '10³' : ''",
"labelOverlap": false, "labelFlush": false, "labelBound": false,
"labelFont": "Liberation Sans", "labelFontSize": 17, "labelColor": "#262626", "labelPadding": 26,
"title": "t (h)", "titleFont": "Liberation Serif", "titleFontStyle": "italic", "titleFontWeight": "normal", "titleFontSize": 21, "titleColor": "#262626", "titlePadding": 3,
"domainColor": "#262626", "tickColor": "#262626",
"tickSize": {"condition": {"test": "datum.value == 0.01 || datum.value == 0.1 || datum.value == 1 || datum.value == 10 || datum.value == 100 || datum.value == 1000", "value": -5}, "value": -3},
"grid": true,
"gridColor": {"condition": {"test": "datum.value == 0.01 || datum.value == 0.1 || datum.value == 1 || datum.value == 10 || datum.value == 100 || datum.value == 1000", "value": "#d6d6d6"}, "value": "#d9d9d9"},
"gridDash": {"condition": {"test": "datum.value == 0.01 || datum.value == 0.1 || datum.value == 1 || datum.value == 10 || datum.value == 100 || datum.value == 1000", "value": []}, "value": [2, 3]}
}},
"y": {"field": "v", "type": "quantitative",
"scale": {"domain": [15, 45], "nice": false, "zero": false},
"axis": {
"orient": "left", "values": [15,20,25,30,35,40,45],
"labelFont": "Liberation Sans", "labelFontSize": 17, "labelColor": "#262626", "labelPadding": 8,
"title": "T (°C)", "titleFont": "Liberation Serif", "titleFontStyle": "italic", "titleFontWeight": "normal", "titleFontSize": 21, "titleColor": "#262626", "titlePadding": 13,
"domainColor": "#262626", "tickColor": "#262626", "tickSize": -5,
"grid": true, "gridColor": "#d6d6d6"
}},
"color": {"field": "p", "type": "quantitative", "scale": {"domain": [0, 1], "range": ["#0000ff", "#ff0000"], "interpolate": "hsl-long"}, "legend": null},
"detail": {"field": "s", "type": "nominal"}
}
},
{
"transform": [{"filter": "datum.s == 1"}],
"mark": {"type": "line", "opacity": 0},
"encoding": {
"x": {"field": "t", "type": "quantitative",
"axis": {"orient": "top", "values": [0.01,0.02,0.03,0.04,0.05,0.06,0.07,0.08,0.09,0.1,0.2,0.3,0.4,0.5,0.6,0.7,0.8,0.9,1,2,3,4,5,6,7,8,9,10,20,30,40,50,60,70,80,90,100,200,300,400,500,600,700,800,900,1000],
"labels": false, "grid": false, "domain": false, "title": null, "tickColor": "#262626",
"tickSize": {"condition": {"test": "datum.value == 0.01 || datum.value == 0.1 || datum.value == 1 || datum.value == 10 || datum.value == 100 || datum.value == 1000", "value": -5}, "value": -3}}},
"y": {"field": "v", "type": "quantitative",
"axis": {"orient": "right", "values": [15,20,25,30,35,40,45], "labels": false, "grid": false, "domain": false, "title": null, "tickColor": "#262626", "tickSize": -5}}
}
}
],
"resolve": {"axis": {"x": "independent", "y": "independent"}}
}
